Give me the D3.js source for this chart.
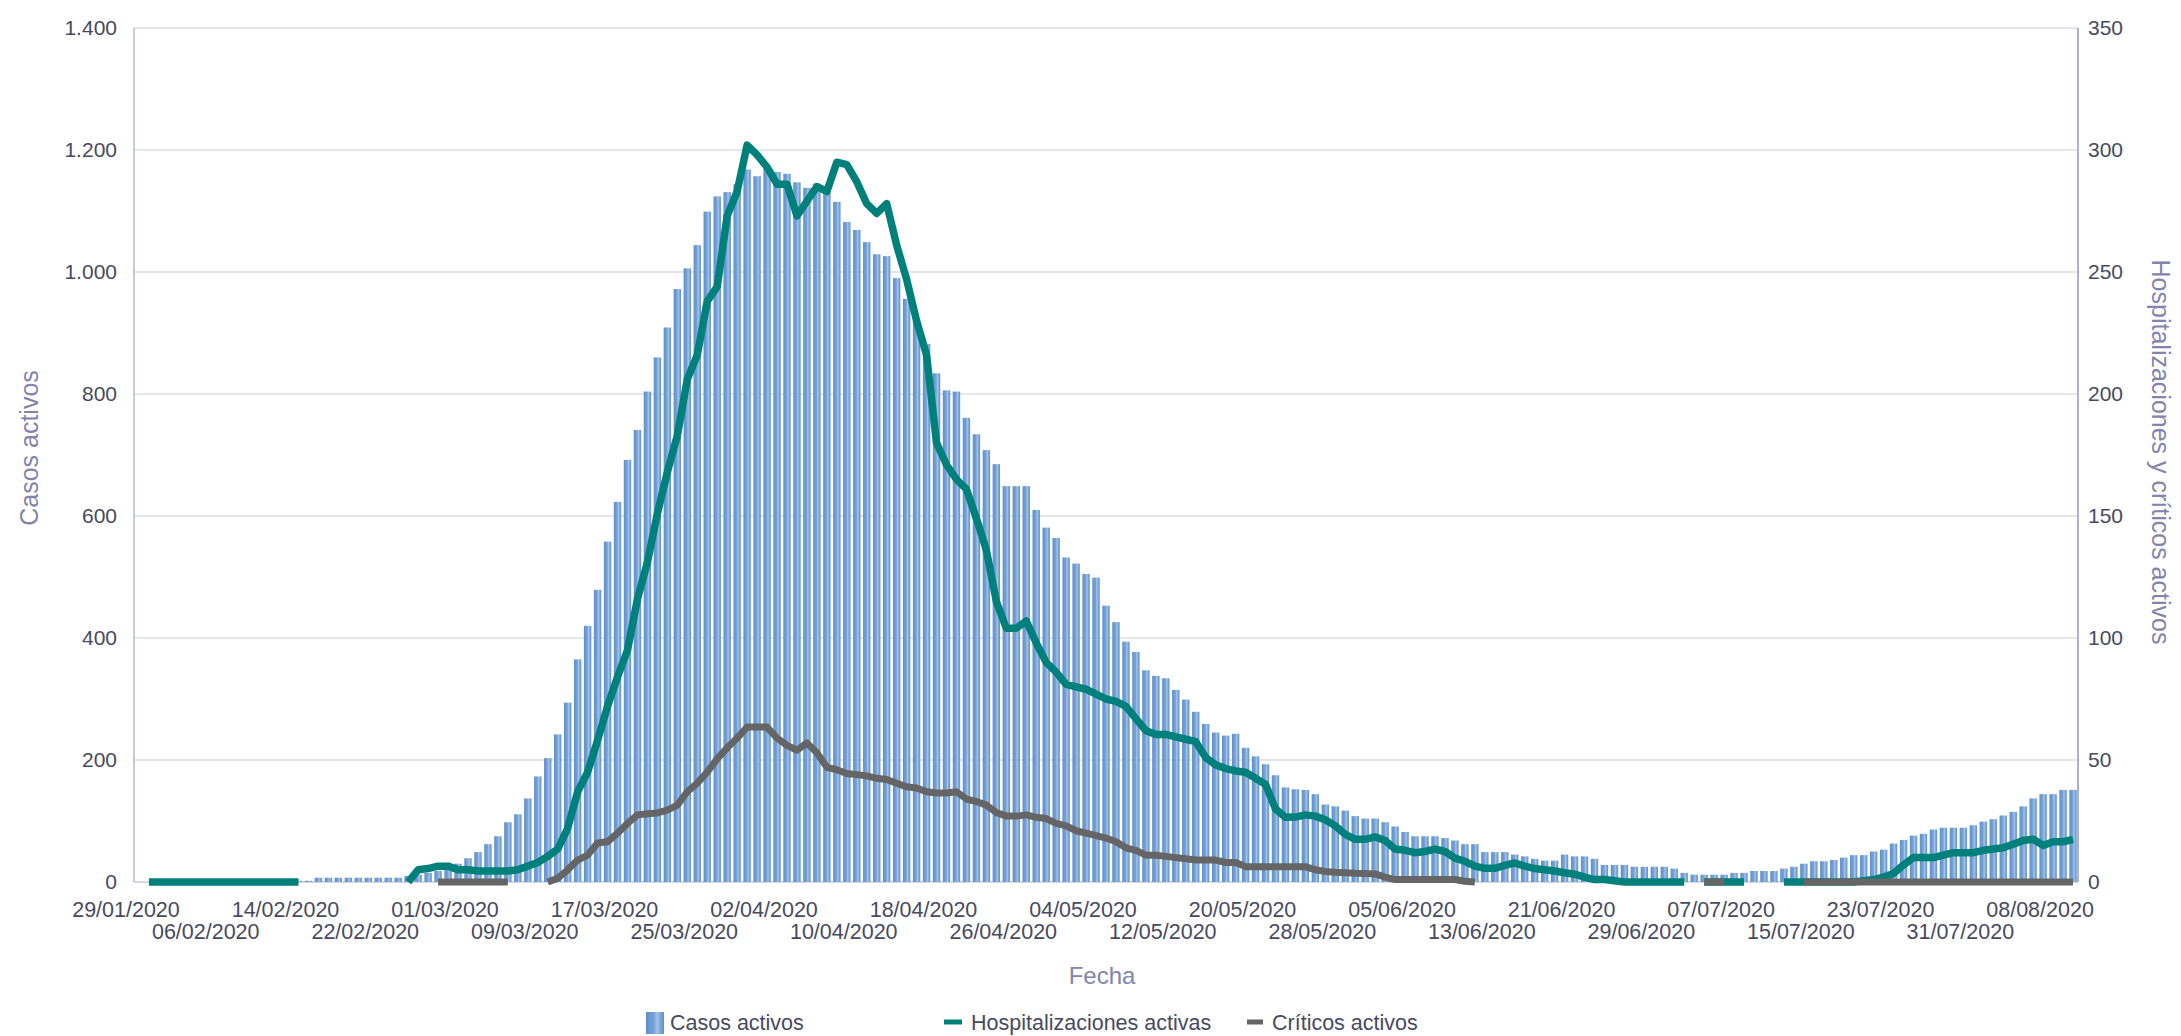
<!DOCTYPE html>
<html><head><meta charset="utf-8">
<script src="https://cdn.jsdelivr.net/npm/d3@7"></script>
<style>
body{margin:0;background:#fff;}
svg{display:block;font-family:"Liberation Sans",Arial,sans-serif;}
</style>
</head><body>
<svg id="chart" width="2181" height="1036"></svg>
<script>
// ---------- DATA ----------
const startDate = [2020, 0, 29];   // 29/01/2020
const endDate   = [2020, 7, 10];   // 10/08/2020 (inclusive)

const casosActivos = [
  0,0,0,0,0,0,0,0,0,0,
  0,0,0,0,0,0,2,2,7,7,
  7,7,7,7,7,7,7,10,12,15,
  18,22,30,39,49,62,75,98,111,137,
  173,203,242,294,365,420,479,558,623,692,
  741,804,860,909,972,1006,1044,1099,1124,1131,
  1144,1168,1157,1170,1164,1161,1147,1138,1145,1134,
  1115,1082,1069,1049,1029,1026,990,956,920,882,
  834,806,804,761,734,708,685,649,649,649,
  610,581,564,532,522,505,499,453,426,394,
  377,347,338,334,315,299,279,259,245,240,
  243,220,206,193,175,155,152,151,144,127,
  124,117,108,104,104,98,91,82,75,75,
  75,72,68,62,62,49,49,49,45,42,
  38,35,35,45,42,42,38,28,28,28,
  25,25,25,25,22,15,12,12,12,12,
  15,15,18,18,18,22,25,30,34,34,
  36,40,44,44,50,53,63,69,76,79,
  86,89,89,89,93,99,103,109,115,124,
  137,144,144,151,151
];

const hospitalizacionesActivas = [
  null,0,0,0,0,0,0,0,0,0,
  0,0,0,0,0,0,0,null,null,null,
  null,null,null,null,null,null,null,0,5,5.5,
  6.5,6.5,5,5,4.5,4.5,4.5,4.5,5,6.5,
  8,10.5,13.5,22,37,45,58,72,84,95,
  116,131,151,168,183,206,216,238,244,273,
  283,302,298,293,286,286,273,279,285,283,
  295,294,287,278,274,278,261,247,230,216,
  180,171,165,161,149,136,115,104,104,107,
  98,90,86,81,80,79,77,75,74,72,
  67,62,60.5,60.5,59.5,58.5,57.5,51,48,46.5,
  45.5,45,42.5,40,30,26.5,26.6,27.5,27,25.5,
  23,19.5,17.5,17.5,18.5,17,13.5,13,12,12.5,
  13.5,12.5,9.8,8.5,6.5,5.6,5.6,6.8,7.8,6.5,
  5.5,5,4.5,3.8,3.2,2,1,1,0.5,0,
  0,0,0,0,0,0,null,0,0,0,
  0,0,null,null,null,0,0,0,0,0,
  0,0,0,0.5,1,2,3.5,7,10,10,
  10,11,12,12,12,13,13.5,14,15.5,17,
  17.5,15,16.5,16.5,17.5
];

const criticosActivos = [
  null,null,null,null,null,null,null,null,null,null,
  null,null,null,null,null,null,null,null,null,null,
  null,null,null,null,null,null,null,null,null,null,
  0,0,0,0,0,0,0,0,null,null,
  null,0,1.5,5,9,11,16,16.5,20,24,
  27.5,28,28.3,29.5,31.5,37,40.5,45,50.5,55,
  59,63.5,63.5,63.5,59,56,54,57,53,47,
  46,44.5,44,43.5,42.5,42,40.5,39,38.5,37,
  36.5,36.5,37,34,33,31.5,28.5,27,27,27.5,
  26.5,26,24,23,21,20,19,18,16.5,14,
  13,11,11,10.5,10,9.5,9,9,9,8,
  8,6.3,6.3,6.3,6.3,6.3,6.3,6.3,5,4.3,
  4,3.8,3.6,3.5,3.3,2,1,1,1,1,
  1,1,1,0.3,0,null,null,null,null,null,
  null,null,null,null,null,null,null,null,null,null,
  null,null,null,null,null,null,null,0,0,0,
  null,null,null,null,null,null,null,0,0,0,
  0,0,0,0,0,0,0,0,0,0,
  0,0,0,0,0,0,0,0,0,0,
  0,0,0,0,0
];

const dateTickLabels = [
  "29/01/2020","06/02/2020","14/02/2020","22/02/2020","01/03/2020",
  "09/03/2020","17/03/2020","25/03/2020","02/04/2020","10/04/2020",
  "18/04/2020","26/04/2020","04/05/2020","12/05/2020","20/05/2020",
  "28/05/2020","05/06/2020","13/06/2020","21/06/2020","29/06/2020",
  "07/07/2020","15/07/2020","23/07/2020","31/07/2020","08/08/2020"
];
const leftTicks  = [0,200,400,600,800,1000,1200,1400];
const rightTicks = [0,50,100,150,200,250,300,350];

const seriesNames = ["Casos activos","Hospitalizaciones activas","Críticos activos"];

// ---------- LAYOUT ----------
const L = 134, R = 2078, T = 28, B = 882;
const svg = d3.select("#chart");
const fmtDate = d3.utcFormat("%d/%m/%Y");
const days = d3.utcDay.range(new Date(Date.UTC(...startDate)),
                             d3.utcDay.offset(new Date(Date.UTC(...endDate)), 1));
const cats = days.map(fmtDate);

const x = d3.scaleBand().domain(cats).range([L, R]).paddingInner(0.26).paddingOuter(0.13);
const yL = d3.scaleLinear().domain([0, 1400]).range([B, T]);
const yR = d3.scaleLinear().domain([0, 350]).range([B, T]);
const loc = d3.formatLocale({decimal: ",", thousands: ".", grouping: [3], currency: ["", "€"]});
const fmtNum = loc.format(",d");
const cx = d => x(d) + x.bandwidth() / 2;

const textCol = "#474a5f", titleCol = "#8384ab";

// gradient for bars
const defs = svg.append("defs");
const g = defs.append("linearGradient").attr("id", "barGrad")
  .attr("x1", "0").attr("x2", "1").attr("y1", "0").attr("y2", "0");
[[0, "#5f90cb"], [0.45, "#76a3d7"], [0.62, "#a6c4e8"], [0.8, "#7ca8da"], [1, "#5e8fca"]]
  .forEach(([o, c]) => g.append("stop").attr("offset", o).attr("stop-color", c));

// gridlines
svg.append("g").selectAll("line").data(leftTicks.filter(v => v > 0)).join("line")
  .attr("x1", L).attr("x2", R).attr("y1", d => yL(d)).attr("y2", d => yL(d))
  .attr("stroke", "#dcdce6").attr("stroke-width", 1.4);

// axes lines
svg.append("line").attr("x1", L).attr("x2", R).attr("y1", B).attr("y2", B)
  .attr("stroke", "#c9cadc").attr("stroke-width", 1.4);
svg.append("line").attr("x1", L).attr("x2", L).attr("y1", T).attr("y2", B)
  .attr("stroke", "#b3b5cf").attr("stroke-width", 1.4);
svg.append("line").attr("x1", R).attr("x2", R).attr("y1", T).attr("y2", B)
  .attr("stroke", "#8c90b9").attr("stroke-width", 1.4);

// bars
svg.append("g").selectAll("rect").data(casosActivos.map((v, i) => ({c: cats[i], v})))
  .join("rect")
  .attr("x", d => x(d.c)).attr("width", x.bandwidth())
  .attr("y", d => yL(d.v)).attr("height", d => B - yL(d.v))
  .attr("fill", "url(#barGrad)");

// lines
function drawLine(arr, color, w) {
  const data = arr.map((v, i) => ({c: cats[i], v}));
  const line = d3.line().defined(d => d.v !== null)
    .x(d => cx(d.c)).y(d => yR(d.v));
  svg.append("path").datum(data).attr("d", line)
    .attr("fill", "none").attr("stroke", color).attr("stroke-width", w)
    .attr("stroke-linejoin", "round").attr("stroke-linecap", "butt");
}
drawLine(hospitalizacionesActivas, "#00807b", 7.5);
drawLine(criticosActivos, "#656565", 7);

// left ticks
svg.append("g").selectAll("text").data(leftTicks).join("text")
  .attr("x", 117).attr("y", d => yL(d)).attr("dy", "0.35em")
  .attr("text-anchor", "end").attr("font-size", 21).attr("fill", textCol)
  .text(d => fmtNum(d));
// right ticks
svg.append("g").selectAll("text").data(rightTicks).join("text")
  .attr("x", 2088).attr("y", d => yR(d)).attr("dy", "0.35em")
  .attr("text-anchor", "start").attr("font-size", 21).attr("fill", textCol)
  .text(d => fmtNum(d));
// date ticks
svg.append("g").selectAll("text").data(dateTickLabels).join("text")
  .attr("x", d => cx(d) - 13)
  .attr("y", (d, i) => i % 2 === 0 ? 917 : 939)
  .attr("text-anchor", "middle").attr("font-size", 21.5).attr("fill", textCol)
  .text(d => d);

// axis titles
svg.append("text").attr("x", (L + R) / 2 - 4).attr("y", 984)
  .attr("text-anchor", "middle").attr("font-size", 24).attr("fill", titleCol).text("Fecha");
svg.append("text").attr("transform", "translate(38,448) rotate(-90)")
  .attr("text-anchor", "middle").attr("font-size", 25).attr("fill", titleCol).text("Casos activos");
svg.append("text").attr("transform", "translate(2152,452) rotate(90)")
  .attr("text-anchor", "middle").attr("font-size", 25).attr("fill", titleCol)
  .text("Hospitalizaciones y críticos activos");

// legend
const lg = svg.append("g");
lg.append("rect").attr("x", 646).attr("y", 1012).attr("width", 18).attr("height", 22)
  .attr("fill", "url(#barGrad)");
lg.append("text").attr("x", 670).attr("y", 1030).attr("font-size", 21.5).attr("fill", textCol).text(seriesNames[0]);
lg.append("line").attr("x1", 944).attr("x2", 962).attr("y1", 1022).attr("y2", 1022)
  .attr("stroke", "#00807b").attr("stroke-width", 5);
lg.append("text").attr("x", 971).attr("y", 1030).attr("font-size", 21.5).attr("fill", textCol).text(seriesNames[1]);
lg.append("line").attr("x1", 1247).attr("x2", 1263).attr("y1", 1022).attr("y2", 1022)
  .attr("stroke", "#656565").attr("stroke-width", 5);
lg.append("text").attr("x", 1272).attr("y", 1030).attr("font-size", 21.5).attr("fill", textCol).text(seriesNames[2]);
</script>
</body></html>
